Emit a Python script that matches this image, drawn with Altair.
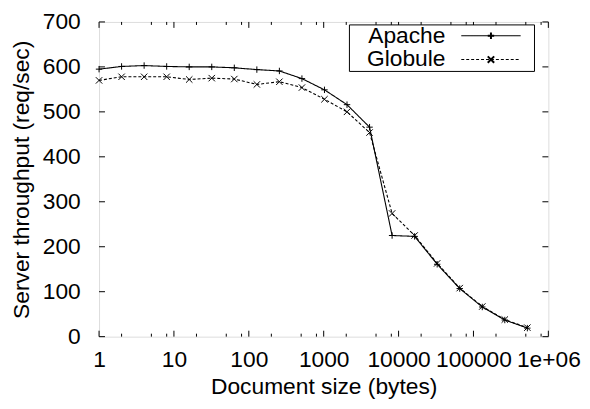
import altair as alt
import pandas as pd

# ---- data ----
doc_size = [1, 2, 4, 8, 16, 32, 64, 128, 256, 512, 1024, 2048, 4096,
            8192, 16384, 32768, 65536, 131072, 262144, 524288]
apache = [595, 601, 603, 601, 600, 600, 598, 594, 591, 574, 549, 516, 466,
          225, 223, 161, 107, 66, 37, 19]
globule = [570, 578, 578, 578, 572, 575, 573, 561, 567, 554, 528, 500, 454,
           274, 225, 163, 108, 67, 38, 20]
series_names = ["Apache", "Globule"]

x_major_ticks = [1, 10, 100, 1000, 10000, 100000, 1000000]
x_tick_labels = ["1", "10", "100", "1000", "10000", "100000", "1e+06"]
x_minor_ticks = [2, 5, 8, 20, 50, 80, 200, 500, 800, 2000, 5000, 8000,
                 20000, 50000, 80000, 200000, 500000, 800000]
y_ticks = [0, 100, 200, 300, 400, 500, 600, 700]

W, H = 454, 318
FONT = "Liberation Sans"
FS = 23

rows = []
for name, vals in zip(series_names, [apache, globule]):
    for x, v in zip(doc_size, vals):
        rows.append({"size": x, "thr": v, "series": name})
df = pd.DataFrame(rows)

xscale = alt.Scale(type="log", domain=[1, 1000000], nice=False)
yscale = alt.Scale(domain=[0, 700], nice=False, zero=False)

label_expr = " : ".join(
    f"datum.value == {v} ? '{l}'" for v, l in zip(x_major_ticks, x_tick_labels)
) + " : ''"

xaxis = alt.Axis(values=x_major_ticks, labelExpr=label_expr, ticks=False,
                 domain=False, grid=False, labelPadding=12,
                 title="Document size (bytes)", titlePadding=4,
                 labelFont=FONT, labelFontSize=FS, titleFont=FONT,
                 titleFontSize=FS, titleFontWeight="normal",
                 labelColor="black", titleColor="black",
                 labelFlush=False, labelOverlap=False)
yaxis = alt.Axis(values=y_ticks, ticks=False, domain=False, grid=False,
                 labelPadding=19, title="Server throughput (req/sec)",
                 titlePadding=9, labelFont=FONT, labelFontSize=FS,
                 titleFont=FONT, titleFontSize=FS,
                 titleFontWeight="normal", labelColor="black",
                 titleColor="black")

shape_paths = ["M-1,0L1,0M0,-1L0,1", "M-1,-1L1,1M-1,1L1,-1"]
dash_scale = alt.Scale(domain=series_names, range=[[1, 0], [3, 2]])

lines = alt.Chart(df).mark_line(color="black", strokeWidth=1.1).encode(
    x=alt.X("size:Q", scale=xscale, axis=xaxis),
    y=alt.Y("thr:Q", scale=yscale, axis=yaxis),
    strokeDash=alt.StrokeDash("series:N", scale=dash_scale, legend=None),
    detail="series:N",
)

points = alt.Chart(df).mark_point(filled=False, color="black", strokeWidth=1,
                                  size=42, opacity=1).encode(
    x=alt.X("size:Q", scale=xscale, axis=xaxis),
    y=alt.Y("thr:Q", scale=yscale, axis=yaxis),
    shape=alt.Shape("series:N", scale=alt.Scale(domain=series_names,
                                                range=shape_paths), legend=None),
)

# inward ticks (gnuplot style), mirrored on all sides
xmaj = pd.DataFrame({"t": x_major_ticks})
xmin = pd.DataFrame({"t": x_minor_ticks})
ytk = pd.DataFrame({"t": y_ticks})

def xt(data, y0, y1):
    return alt.Chart(data).mark_rule(color="black", strokeWidth=1).encode(
        x=alt.X("t:Q", scale=xscale, axis=xaxis),
        y=alt.value(y0), y2=alt.value(y1))

def yt(data, x0, x1):
    return alt.Chart(data).mark_rule(color="black", strokeWidth=1).encode(
        y=alt.Y("t:Q", scale=yscale, axis=yaxis),
        x=alt.value(x0), x2=alt.value(x1))

ticks = [xt(xmaj, H, H - 6), xt(xmaj, 0, 6), xt(xmin, H, H - 3), xt(xmin, 0, 3),
         yt(ytk, 0, 6), yt(ytk, W, W - 6)]

# legend (gnuplot style: label left, sample right)
one = pd.DataFrame({"a": [0]})
legend_box = alt.Chart(one).mark_rect(fill="white", stroke="black",
                                      strokeWidth=1).encode(
    x=alt.value(253), x2=alt.value(440), y=alt.value(3), y2=alt.value(50))

legend_layers = [legend_box]
row_y = [14, 38]
for i, name in enumerate(series_names):
    ldf = pd.DataFrame({"series": [name]})
    legend_layers.append(
        alt.Chart(ldf).mark_text(align="right", baseline="middle", font=FONT,
                                 fontSize=FS, color="black").encode(
            text="series:N", x=alt.value(350), y=alt.value(row_y[i])))
    legend_layers.append(
        alt.Chart(ldf).mark_rule(color="black", strokeWidth=1.1,
                                 strokeDash=dash_scale.range[i]).encode(
            x=alt.value(366), x2=alt.value(426), y=alt.value(row_y[i])))
    legend_layers.append(
        alt.Chart(ldf).mark_point(filled=False, color="black", size=42,
                                  shape=shape_paths[i], opacity=1).encode(
            x=alt.value(396), y=alt.value(row_y[i])))

chart = alt.layer(lines, points, *ticks, *legend_layers).properties(
    width=W, height=H,
    autosize=alt.AutoSizeParams(type="none"),
    padding={"left": 92, "top": 12, "right": 34, "bottom": 70},
).configure_view(stroke="black", strokeWidth=1).configure(background="white")

chart.save("out.html", embed_options={"renderer": "svg", "actions": False})
